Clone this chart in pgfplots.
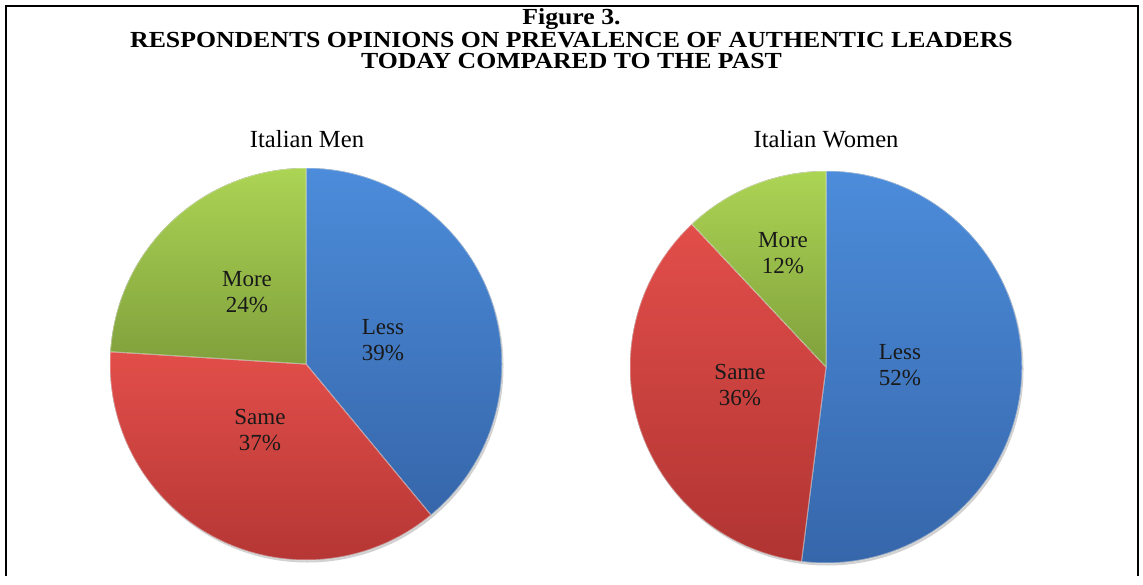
\documentclass[border=0pt]{standalone}
\usepackage{pgfplots}
\pgfplotsset{compat=1.18}
\usepackage{pgfplotstable}
\usepackage{fontspec}
\setmainfont{Liberation Serif}

% slice colours: light at the top of each slice, darker at the bottom
\definecolor{LessTop}{RGB}{76,140,218}
\definecolor{LessBot}{RGB}{54,102,170}
\definecolor{SameTop}{RGB}{226,78,74}
\definecolor{SameBot}{RGB}{176,52,50}
\definecolor{MoreTop}{RGB}{172,212,84}
\definecolor{MoreBot}{RGB}{128,160,60}

% answers, in percent
\pgfplotstableread{
label value
Less  39
Same  37
More  24
}\menData
\pgfplotstableread{
label value
Less  52
Same  36
More  12
}\womenData

\def\pieR{98pt}

% #1 table, #2/#3 centre of the pie in axis units
\newcommand\drawpie[3]{%
  \fill[black, opacity=0.18] (axis cs:#2+1.5,#3+2.5) circle[radius=\pieR];
  \pgfplotstablegetrowsof{#1}%
  \pgfmathtruncatemacro\lastrow{\pgfplotsretval-1}%
  \def\cum{0}%
  \pgfplotsforeachungrouped \r in {0,...,\lastrow}{%
    \pgfplotstablegetelem{\r}{value}\of{#1}%
    \let\val\pgfplotsretval
    \pgfmathsetmacro\aStart{90-3.6*\cum}%
    \pgfmathsetmacro\aEnd{90-3.6*(\cum+\val)}%
    \pgfmathsetmacro\cum{\cum+\val}%
    \pgfplotstablegetelem{\r}{label}\of{#1}%
    \edef\doslice{\noexpand\fill[top color=\pgfplotsretval Top,
        bottom color=\pgfplotsretval Bot, draw=white, draw opacity=0.45,
        line width=0.5pt, line join=round]
      (axis cs:#2,#3) -- ++(\aStart:\pieR)
      arc[start angle=\aStart, end angle=\aEnd, radius=\pieR] -- cycle;}%
    \doslice
  }%
}

\begin{document}
\begin{tikzpicture}
\begin{axis}[
  scale only axis, width=571.5pt, height=288pt,
  xmin=0, xmax=1143, ymin=0, ymax=576, y dir=reverse,
  hide axis, clip=false]
  \path (axis cs:0,0) rectangle (axis cs:1143,576);
  % frame, open at the bottom
  \draw[line width=1.3pt] (axis cs:6,576) -- (axis cs:6,6) -- (axis cs:1138,6) -- (axis cs:1138,576);

  % titles
  \begin{scope}[every node/.style={xscale=1.12, font=\bfseries\fontsize{11.5}{13}\selectfont}]
    \node at (axis cs:571.5,19) {Figure 3.};
    \node at (axis cs:571.5,40) {RESPONDENTS OPINIONS ON PREVALENCE OF AUTHENTIC LEADERS};
    \node at (axis cs:571.5,61) {TODAY COMPARED TO THE PAST};
  \end{scope}
  \node[font=\fontsize{12.3}{14}\selectfont] at (axis cs:307,139) {Italian Men};
  \node[font=\fontsize{12.3}{14}\selectfont] at (axis cs:826,139) {Italian Women};

  \drawpie{\menData}{306}{364}
  \drawpie{\womenData}{826}{367}

  % slice labels
  \begin{scope}[every node/.style={align=center, text=black!90, font=\fontsize{11.5}{13.3}\selectfont}]
    \node at (axis cs:383,340) {Less\\39\%};
    \node at (axis cs:260,430) {Same\\37\%};
    \node at (axis cs:247,292) {More\\24\%};
    \node at (axis cs:900,365) {Less\\52\%};
    \node at (axis cs:740,385) {Same\\36\%};
    \node at (axis cs:783,253) {More\\12\%};
  \end{scope}
\end{axis}
\end{tikzpicture}
\end{document}
